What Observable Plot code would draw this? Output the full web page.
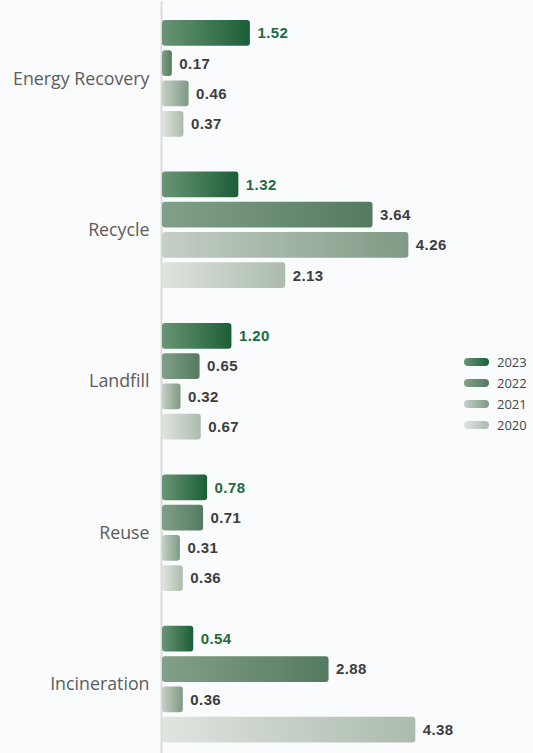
<!DOCTYPE html>
<html>
<head>
<meta charset="utf-8">
<script src="https://cdn.jsdelivr.net/npm/d3@7"></script>
<script src="https://cdn.jsdelivr.net/npm/@observablehq/plot@0.6"></script>
<style>
  html, body { margin: 0; padding: 0; background: #fafbfd; }
  #wrap { position: relative; width: 533px; height: 753px; overflow: hidden; }
  #legend { position: absolute; left: 464px; top: 351px; font-family: "Open Sans", sans-serif; font-size: 13px; color: #454545; }
  .row { display: flex; align-items: center; height: 21px; }
  .pill { width: 25px; height: 8px; border-radius: 4px; margin-right: 8px; }
  g[aria-label="text"] text { letter-spacing: 0.4px; }
</style>
</head>
<body>
<div id="wrap"><div id="legend"></div></div>
<script>
const categories = ["Energy Recovery", "Recycle", "Landfill", "Reuse", "Incineration"];
const years = ["2023", "2022", "2021", "2020"];
const v2023 = [1.52, 1.32, 1.20, 0.78, 0.54];
const v2022 = [0.17, 3.64, 0.65, 0.71, 2.88];
const v2021 = [0.46, 4.26, 0.32, 0.31, 0.36];
const v2020 = [0.37, 2.13, 0.67, 0.36, 4.38];

const series = {"2023": v2023, "2022": v2022, "2021": v2021, "2020": v2020};
const gradients = {
  "2023": ["#6a9575", "#1b5e37"],
  "2022": ["#82a089", "#557a5f"],
  "2021": ["#c6cfc6", "#7e9a84"],
  "2020": ["#e0e4e0", "#abbbac"]
};
const labelColor = {"2023": "#1f6b3f", "2022": "#3d3d3d", "2021": "#3d3d3d", "2020": "#3d3d3d"};

const data = [];
categories.forEach((c, i) => years.forEach(y => data.push({category: c, year: y, value: series[y][i]})));

const chart = Plot.plot({
  width: 533,
  height: 753,
  marginLeft: 162,
  marginRight: 24,
  marginTop: 15.5,
  marginBottom: 6,
  style: {background: "transparent", fontFamily: "Open Sans, sans-serif"},
  x: {domain: [0, 6], axis: null},
  y: {domain: years, padding: 0.15, round: false, axis: null},
  fy: {domain: categories, paddingInner: 0.17, paddingOuter: 0, round: false, axis: null},
  color: {type: "identity"},
  marks: [
    Plot.ruleX([0], {stroke: "#dedada", strokeWidth: 2, dx: -1, insetTop: -14, insetBottom: -14}),
    Plot.barX(data, {
      x: "value", y: "year", fy: "category",
      fill: d => `url(#g${d.year})`, rx: 3
    }),
    Plot.text(data, {
      x: "value", y: "year", fy: "category",
      text: d => d.value.toFixed(2),
      textAnchor: "start", dx: 7,
      fill: d => labelColor[d.year],
      fontWeight: "bold", fontSize: 15, fontFamily: "Liberation Sans, Arial, sans-serif"
    }),
    Plot.axisFy({anchor: "left", tickSize: 0, tickPadding: 13, label: null, fontSize: 17.8, fill: "#5c5c5c"})
  ]
});

const defs = d3.select(chart).insert("defs", ":first-child");
years.forEach(y => {
  const g = defs.append("linearGradient").attr("id", "g" + y).attr("x1", "0").attr("x2", "1").attr("y1", "0").attr("y2", "0");
  g.append("stop").attr("offset", "0").attr("stop-color", gradients[y][0]);
  g.append("stop").attr("offset", "1").attr("stop-color", gradients[y][1]);
});

document.getElementById("wrap").prepend(chart);

const legend = d3.select("#legend");
years.forEach(y => {
  const row = legend.append("div").attr("class", "row");
  row.append("div").attr("class", "pill").style("background", `linear-gradient(to right, ${gradients[y][0]}, ${gradients[y][1]})`);
  row.append("span").text(y);
});
</script>
</body>
</html>
